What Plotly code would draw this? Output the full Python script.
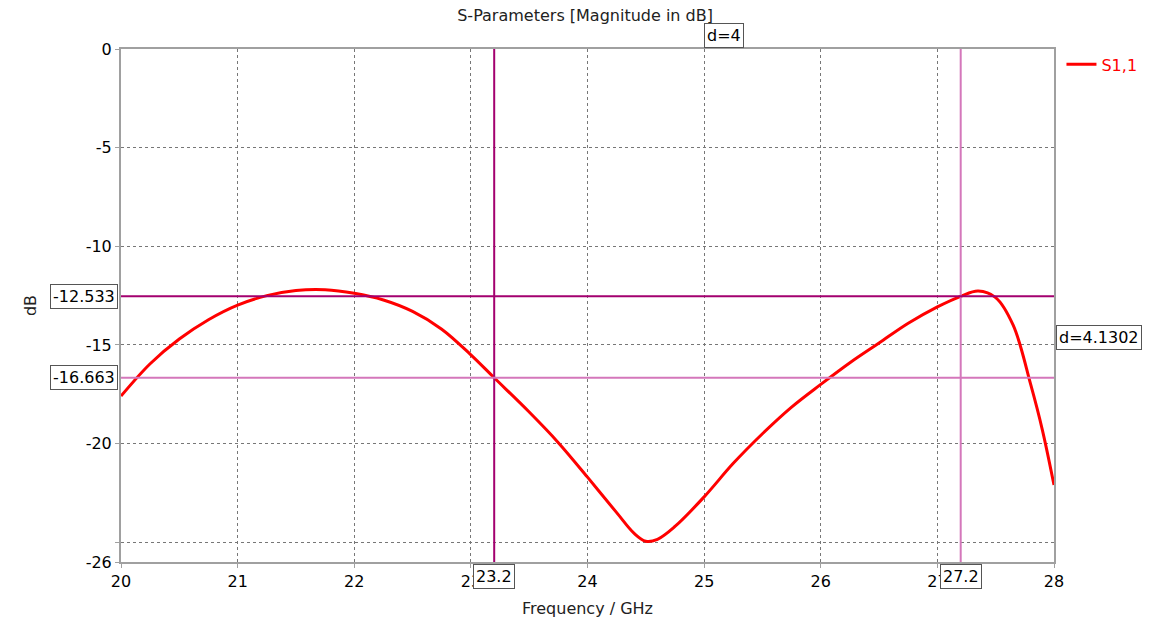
import plotly.graph_objects as go

freq = [20.0, 20.25, 20.5, 20.75, 21.0, 21.25, 21.5, 21.75, 22.0, 22.25, 22.5, 22.75,
        23.0, 23.2, 23.5, 23.75, 24.0, 24.25, 24.4, 24.5, 24.6, 24.75, 25.0, 25.25, 25.5, 25.75,
        26.0, 26.25, 26.5, 26.75, 27.0, 27.2, 27.35, 27.5, 27.65, 27.8, 27.9, 28.0]
s11 = [-17.59, -15.95, -14.7, -13.72, -12.98, -12.5, -12.24, -12.2, -12.38, -12.72,
       -13.3, -14.2, -15.5, -16.663, -18.4, -19.95, -21.7, -23.5, -24.55, -24.95, -24.85,
       -24.2, -22.7, -21.0, -19.5, -18.15, -17.0, -15.9, -14.9, -13.9, -13.07, -12.533,
       -12.27, -12.6, -14.0, -17.0, -19.3, -22.1]

x_ticks = [20, 21, 22, 23, 24, 25, 26, 27, 28]
y_ticks = [0, -5, -10, -15, -20, -25, -26]
y_tick_text = ["0", "-5", "-10", "-15", "-20", "", "-26"]

marker_x = [23.2, 27.2]
marker_y = [-12.533, -16.663]
delta_x_label = "d=4"
delta_y_label = "d=4.1302"

dark_mag = "#a3006f"
light_mag = "#d477bb"
font = "DejaVu Sans"

fig = go.Figure()
fig.add_trace(go.Scatter(x=freq, y=s11, mode="lines", name="S1,1",
                         line=dict(color="#ff0000", width=3, shape="spline", smoothing=1.0)))

# marker lines
fig.add_shape(type="line", xref="x", yref="paper", x0=marker_x[0], x1=marker_x[0], y0=0, y1=1,
              line=dict(color=dark_mag, width=2))
fig.add_shape(type="line", xref="x", yref="paper", x0=marker_x[1], x1=marker_x[1], y0=0, y1=1,
              line=dict(color=light_mag, width=2))
fig.add_shape(type="line", xref="paper", yref="y", x0=0, x1=1, y0=marker_y[0], y1=marker_y[0],
              line=dict(color=dark_mag, width=2))
fig.add_shape(type="line", xref="paper", yref="y", x0=0, x1=1, y0=marker_y[1], y1=marker_y[1],
              line=dict(color=light_mag, width=2))

box = dict(bgcolor="white", bordercolor="#555555", borderwidth=1, borderpad=2,
           font=dict(family=font, size=16, color="black"), showarrow=False)
fig.add_annotation(x=0, xref="paper", y=marker_y[0], yref="y", text=f"{marker_y[0]:.3f}",
                   xanchor="right", xshift=-3, **box)
fig.add_annotation(x=0, xref="paper", y=marker_y[1], yref="y", text=f"{marker_y[1]:.3f}",
                   xanchor="right", xshift=-3, **box)
fig.add_annotation(x=marker_x[0], xref="x", y=0, yref="paper", text=f"{marker_x[0]}",
                   yanchor="top", yshift=-2, **box)
fig.add_annotation(x=marker_x[1], xref="x", y=0, yref="paper", text=f"{marker_x[1]}",
                   yanchor="top", yshift=-2, **box)
fig.add_annotation(x=25.17, xref="x", y=1, yref="paper", text=delta_x_label,
                   yanchor="bottom", yshift=1, **box)
fig.add_annotation(x=1, xref="paper", y=-14.63, yref="y", text=delta_y_label,
                   xanchor="left", xshift=2, **box)

axis_common = dict(showline=True, linecolor="#a0a0a0", linewidth=2, mirror=True,
                   showgrid=True, gridcolor="#777777", griddash="dot", gridwidth=1,
                   ticks="outside", tickcolor="#a0a0a0", ticklen=4, zeroline=False,
                   automargin=False,
                   tickfont=dict(family=font, size=16, color="black"))

fig.update_layout(
    width=1154, height=622,
    margin=dict(l=121, r=100, t=49, b=60),
    paper_bgcolor="white", plot_bgcolor="white",
    title=dict(text="S-Parameters [Magnitude in dB]", x=0.507, xanchor="center",
               y=0.975, yanchor="middle", font=dict(family=font, size=16, color="#222222")),
    xaxis=dict(range=[20, 28], tickvals=x_ticks,
               title=dict(text="Frequency / GHz", standoff=13,
                          font=dict(family=font, size=16, color="#222222")),
               **axis_common),
    yaxis=dict(range=[-26, 0], tickvals=y_ticks, ticktext=y_tick_text,
               title=dict(text="dB", standoff=45, font=dict(family=font, size=16, color="#222222")),
               **axis_common),
    legend=dict(x=1.008, y=0.97, xanchor="left", yanchor="middle",
                font=dict(family=font, size=16, color="#ff0000"), bgcolor="rgba(0,0,0,0)"),
    showlegend=True,
)

fig.write_html("out.html")
